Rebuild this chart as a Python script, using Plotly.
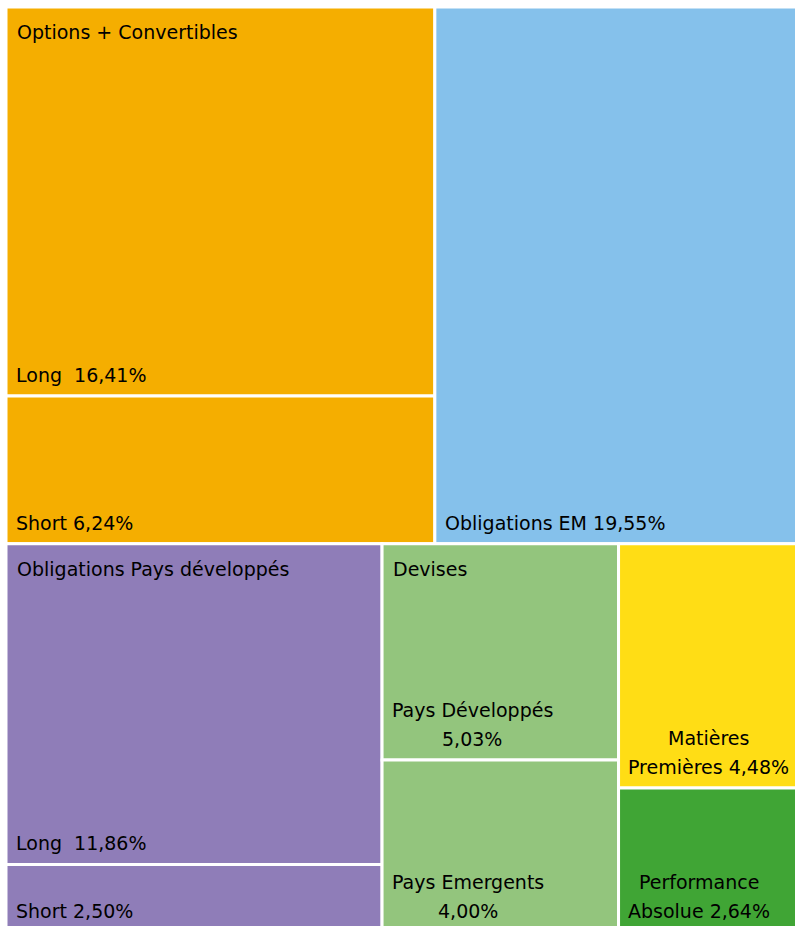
import plotly.graph_objects as go

# ---------------- data ----------------
leaf_ids = ["opt_long", "opt_short", "em", "opd_long", "opd_short",
            "dev_pd", "dev_pe", "mat", "perf"]
leaf_labels = ["Long ", "Short", "Obligations EM", "Long ", "Short",
               "Pays Développés\n", "Pays Emergents\n", "Matières\nPremières",
               "Performance\nAbsolue"]
leaf_values = [16.41, 6.24, 19.55, 11.86, 2.50, 5.03, 4.00, 4.48, 2.64]
leaf_colors = ["#F5AE00", "#F5AE00", "#85C1EB", "#8F7DB8", "#8F7DB8",
               "#93C57D", "#93C57D", "#FFDD15", "#40A535"]

# grouping of leaves into rows -> columns (treemap layout)
rows = [
    [["opt_long", "opt_short"], ["em"]],
    [["opd_long", "opd_short"], ["dev_pd", "dev_pe"], ["mat", "perf"]],
]
column_headers = {(0, 0): "Options + Convertibles",
                  (1, 0): "Obligations Pays développés",
                  (1, 1): "Devises"}

# ---------------- style ----------------
FIG_W, FIG_H = 795, 926
TREE_W, TREE_H = 799, 925          # full extent of the treemap (slightly cropped)
ML, MT = 6, 7
FONT_SIZE = 19
FONT = dict(family="DejaVu Sans", size=FONT_SIZE, color="#000000")
GAP = 3
LABEL_XSHIFT = 9
LABEL_YSHIFT = 8
HEADER_YSHIFT = -12
LINE_STEP = 29.5

# approximate DejaVu Sans advance widths (em) used to centre multi-line labels
GLYPH_W = {" ": .318, "%": .950, ",": .318, "P": .603, "a": .613, "y": .592,
           "s": .521, "D": .770, "é": .615, "v": .592, "e": .615, "l": .278,
           "o": .612, "p": .635, "E": .632, "m": .974, "r": .411, "g": .635,
           "n": .634, "t": .392, "M": .863, "i": .278, "è": .615, "f": .352,
           "c": .550, "A": .684, "b": .635, "u": .634}


def text_width(s):
    return sum(GLYPH_W.get(ch, .636) for ch in s) * FONT_SIZE


val = dict(zip(leaf_ids, leaf_values))
lab = dict(zip(leaf_ids, leaf_labels))
col = dict(zip(leaf_ids, leaf_colors))


def fmt(v):
    return f"{v:.2f}".replace(".", ",") + "%"


# ---------------- layout computation (slice & dice from values) ----------------
grand = sum(leaf_values)
rects = {}
headers = []
y = 0.0
for r, row in enumerate(rows):
    row_total = sum(val[i] for c in row for i in c)
    h = row_total / grand
    x = 0.0
    for c, column in enumerate(row):
        c_total = sum(val[i] for i in column)
        w = c_total / row_total
        yy = y
        for i in column:
            hh = h * val[i] / c_total
            rects[i] = (x, x + w, yy, yy + hh)
            yy += hh
        if (r, c) in column_headers:
            headers.append((column_headers[(r, c)], x, y))
        x += w
    y += h

plot_w = FIG_W - ML
plot_h = FIG_H - MT
x_vis = plot_w / TREE_W
y_vis = plot_h / TREE_H

fig = go.Figure()
shapes = []
annotations = []
for i in leaf_ids:
    x0, x1, y0, y1 = rects[i]
    shapes.append(dict(type="rect", xref="x", yref="y", x0=x0, x1=x1, y0=y0, y1=y1,
                       fillcolor=col[i], line=dict(color="white", width=GAP),
                       layer="below"))
    label = lab[i]
    text = label + fmt(val[i]) if label.endswith("\n") else label + " " + fmt(val[i])
    lines = text.split("\n")
    n = len(lines)
    # anchor inside the visible range; compensate in pixels for the crop
    ya = min(y1, y_vis)
    crop_px = (y1 - ya) * TREE_H
    wmax = max(text_width(ln) for ln in lines)
    for k, ln in enumerate(lines):
        if n == 1:
            annotations.append(dict(x=x0, y=ya, xref="x", yref="y", xanchor="left",
                                    yanchor="bottom", showarrow=False, text=ln,
                                    font=FONT, xshift=LABEL_XSHIFT - 1,
                                    yshift=LABEL_YSHIFT - crop_px))
        else:
            annotations.append(dict(x=x0, y=ya, xref="x", yref="y", xanchor="center",
                                    yanchor="bottom", showarrow=False, text=ln,
                                    font=FONT, xshift=LABEL_XSHIFT + wmax / 2,
                                    yshift=LABEL_YSHIFT - crop_px + (n - 1 - k) * LINE_STEP))

for text, hx, hy in headers:
    annotations.append(dict(x=hx, y=hy, xref="x", yref="y", xanchor="left",
                            yanchor="top", showarrow=False, text=text, font=FONT,
                            xshift=LABEL_XSHIFT, yshift=HEADER_YSHIFT))

fig.add_trace(go.Scatter(x=[0], y=[0], mode="markers", marker=dict(opacity=0),
                         hoverinfo="skip", showlegend=False))
fig.update_layout(
    width=FIG_W, height=FIG_H,
    margin=dict(l=ML, r=0, t=MT, b=0),
    paper_bgcolor="white", plot_bgcolor="white",
    shapes=shapes, annotations=annotations,
    xaxis=dict(visible=False, range=[0, x_vis], fixedrange=True),
    yaxis=dict(visible=False, range=[y_vis, 0], fixedrange=True),
    showlegend=False,
)
fig.write_html("out.html", config={"displayModeBar": False},
               post_script="document.body.style.margin='0';document.body.style.overflow='hidden';")
